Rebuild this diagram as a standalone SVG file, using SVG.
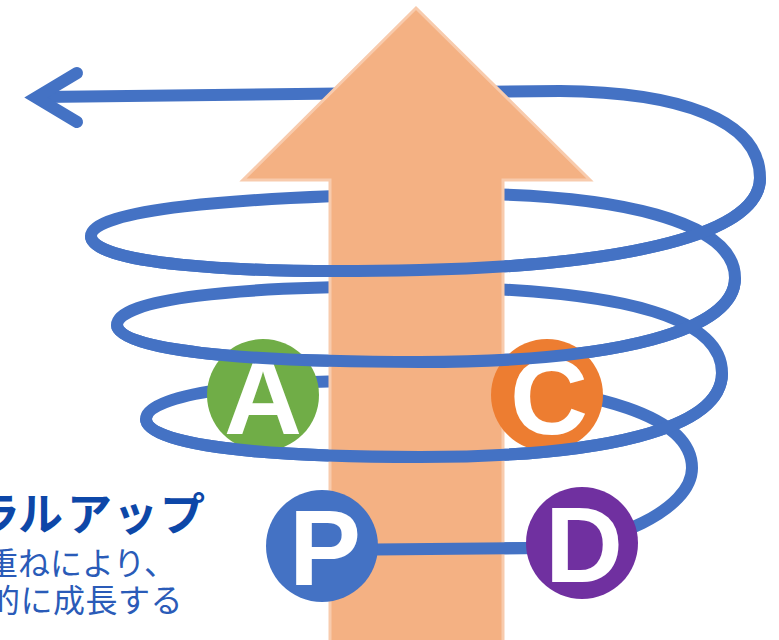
<svg xmlns="http://www.w3.org/2000/svg" width="779" height="640" viewBox="0 0 779 640">
  <style>
    .sp { fill: none; stroke: #4472C4; stroke-width: 12; stroke-linecap: butt; stroke-linejoin: round; }
    .head { fill: none; stroke: #4472C4; stroke-width: 12; stroke-linecap: round; stroke-linejoin: miter; }
    .arrow { fill: #F4B183; stroke: #F8CBAD; stroke-width: 3; }
    .letter { font-family: "Liberation Sans", Arial, sans-serif; font-weight: bold; font-size: 108px; fill: #FFFFFF; text-anchor: middle; }
    .title { font-family: "Noto Sans CJK JP", "Noto Sans CJK SC", sans-serif; font-weight: bold; font-size: 45px; fill: #0D47A8; }
    .sub { font-family: "Noto Sans CJK JP", "Noto Sans CJK SC", sans-serif; font-weight: 400; font-size: 32px; fill: #2A5BB8; }
  </style>
  <rect width="779" height="640" fill="#FFFFFF"/>

  <g id="connectors">
    <path id="spiral" class="sp" d="M322,550 L540,548 C610,546 692,510 692,468 C692,420 610,385 420,381 C250,378 146,395 146,419 C146,445 260,457 420,457 C600,457 722,430 722,373 C722,322 640,289 420,287 C230,285 117,300 117,325 C117,350 240,362 420,362 C620,362 735,330 735,278 C735,225 630,190 420,194 C230,197 91,210 91,236 C91,262 220,275 420,270 C600,266 760,240 760,178 C760,120 680,92 560,91 L42,97"/>
    <polyline class="head" points="77,73 36,97.5 77,122"/>
  </g>

  <g id="growth-arrow">
    <polygon class="arrow" points="416,8 590,180 503,180 503,650 330,650 330,180 243,180"/>
  </g>

  <g id="node-A">
    <circle cx="263" cy="395" r="56" fill="#70AD47"/>
    <text class="letter" x="263" y="434">A</text>
  </g>
  <g id="node-C">
    <circle cx="547" cy="395" r="56" fill="#ED7D31"/>
    <text class="letter" x="549" y="434">C</text>
  </g>

  <g id="connectors-front">
    <path class="sp" d="M322,550 L540,548"/>
    <path class="sp" d="M146,419 C146,445 260,457 420,457 C600,457 722,430 722,373"/>
    <path class="sp" d="M117,325 C117,350 240,362 420,362 C620,362 735,330 735,278"/>
    <path class="sp" d="M91,236 C91,262 220,275 420,270 C600,266 760,240 760,178"/>
  </g>

  <g id="node-P">
    <circle cx="322" cy="546" r="56" fill="#4472C4"/>
    <text class="letter" x="325" y="585">P</text>
  </g>
  <g id="node-D">
    <circle cx="582" cy="543" r="56" fill="#7030A0"/>
    <text class="letter" x="584" y="582">D</text>
  </g>

  <g id="caption">
    <text class="title" y="531"><tspan x="-25">ラ</tspan><tspan x="18">ル</tspan><tspan x="67">ア</tspan><tspan x="113">ッ</tspan><tspan x="160">プ</tspan></text>
    <text class="sub" x="-14" y="575">重ねにより、</text>
    <text class="sub" x="-12" y="612" letter-spacing="0.5">的に成長する</text>
  </g>
</svg>
